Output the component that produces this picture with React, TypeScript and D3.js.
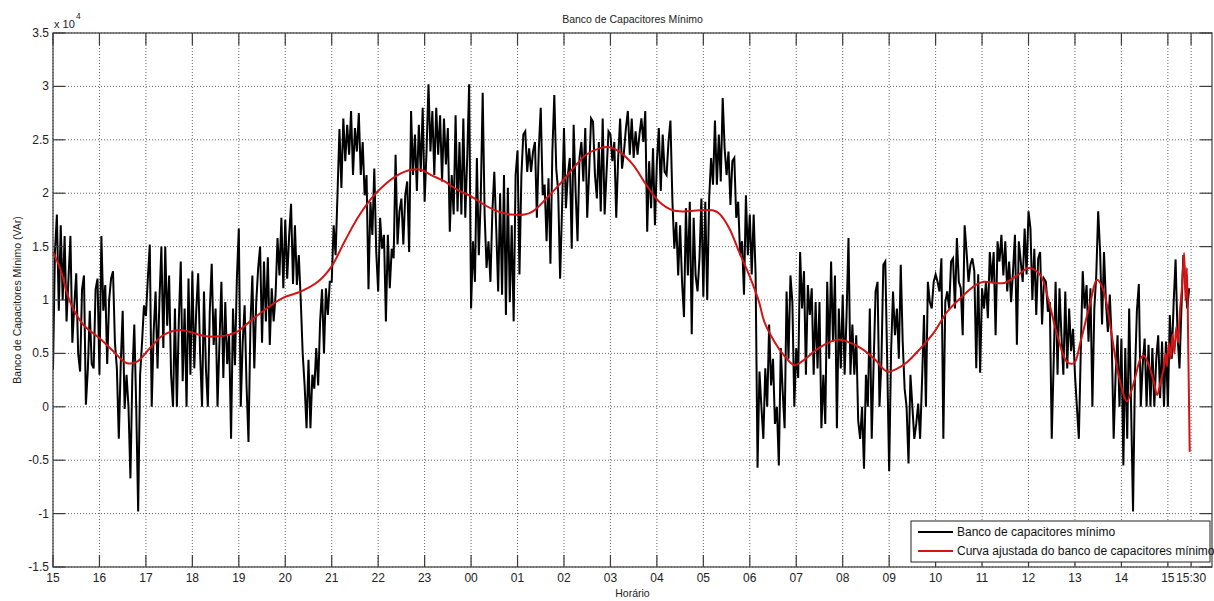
import React from 'react';
import * as d3 from 'd3';

// Banco de capacitores mínimo (x 10^4 VAr), one sample every 2.5 minutes from 15:00
const minBankE4 = [
  0.35, 1.45, 1.8, 0.9, 1.7, 1.0, 1.6, 0.8, 1.2, 1.6, 0.6, 0.95, 1.25, 0.5, 0.33, 1.1, 1.23, 0.02, 0.35, 0.9, 0.4, 0.36, 1.1, 1.2, // 15h
  0.3, 1.6, 0.9, 1.14, 0.4, 1.0, 1.2, 1.27, 0.6, 0.36, -0.3, 0.4, 0.9, -0.02, 0.3, 0.0, -0.67, 0.3, 0.77, 0.0, -0.98, 0.3, 0.6, 0.95, // 16h
  0.85, 1.2, 1.52, 0.0, 0.7, 1.08, 0.36, 1.0, 1.5, 0.55, 1.5, 0.76, 1.23, 0.3, 0.0, 0.92, 0.0, 0.8, 1.36, 0.24, 0.92, 0.0, 1.2, 0.3, // 17h
  1.27, 0.36, 0.9, 1.25, 0.5, 0.0, 1.08, 0.36, 0.0, 0.9, 1.34, 0.58, 0.92, 0.0, 0.6, 1.17, 0.27, 0.98, 0.4, 0.67, -0.3, 0.92, 0.39, 1.2, // 18h
  1.67, 0.0, 0.6, 0.95, 0.2, -0.33, 0.77, 1.23, 0.36, 0.98, 1.3, 1.5, 0.6, 1.36, 0.8, 1.4, 0.58, 1.11, 0.8, 1.05, 1.58, 1.23, 1.77, 1.11, // 19h
  1.75, 1.2, 1.6, 1.9, 1.15, 1.7, 1.14, 1.42, 1.0, 0.5, 0.2, -0.2, 0.44, -0.2, 0.3, 0.17, 0.55, 0.2, 0.8, 1.1, 0.5, 1.11, 0.86, 1.17, // 20h
  1.17, 1.7, 1.42, 2.0, 2.6, 2.05, 2.7, 2.3, 2.64, 2.36, 2.77, 2.17, 2.61, 2.39, 2.75, 2.17, 2.48, 1.98, 2.17, 1.1, 1.92, 1.61, 2.23, 1.45, // 21h
  1.08, 1.77, 1.48, 1.61, 0.8, 1.61, 1.11, 1.48, 1.39, 2.36, 1.52, 1.83, 1.95, 1.52, 1.98, 2.11, 1.45, 2.77, 2.17, 2.55, 2.02, 2.64, 2.2, 2.8, // 22h
  1.92, 2.4, 3.02, 2.39, 2.77, 2.17, 2.8, 2.36, 2.73, 2.11, 2.7, 2.27, 2.61, 1.64, 2.17, 1.8, 2.73, 1.83, 2.48, 1.8, 2.7, 1.77, 2.33, 3.02, // 23h
  0.92, 1.55, 1.17, 2.33, 1.42, 1.95, 2.94, 1.8, 1.3, 1.55, 1.17, 1.83, 2.2, 1.67, 1.08, 2.0, 1.05, 2.17, 0.86, 2.05, 0.98, 1.7, 0.8, 2.17, // 00h
  2.4, 1.24, 2.17, 2.55, 2.58, 2.2, 2.42, 2.2, 2.39, 2.48, 1.77, 2.42, 2.8, 1.98, 2.08, 1.55, 2.14, 1.34, 2.39, 2.92, 2.23, 2.02, 1.2, 1.86, // 01h
  2.61, 1.86, 2.17, 2.33, 1.48, 2.64, 2.02, 1.55, 2.33, 2.48, 2.11, 2.61, 1.77, 2.2, 2.7, 2.67, 2.17, 1.95, 2.48, 1.83, 2.7, 1.8, 2.2, 2.58, // 02h
  2.55, 2.3, 2.48, 1.77, 2.33, 2.7, 2.23, 2.39, 2.61, 2.77, 2.36, 2.7, 2.33, 2.58, 2.36, 2.55, 2.7, 2.48, 2.77, 1.64, 2.3, 1.86, 2.42, 1.7, // 03h
  2.3, 2.61, 2.02, 2.55, 2.2, 2.17, 2.48, 2.68, 1.94, 1.48, 1.73, 1.23, 1.7, 1.17, 0.84, 1.86, 1.23, 1.92, 0.68, 1.77, 1.23, 1.08, 1.39, 1.95, // 04h
  1.03, 1.92, 1.0, 1.95, 2.33, 2.08, 2.68, 2.08, 2.55, 2.11, 2.89, 2.42, 2.17, 2.39, 1.89, 2.3, 2.33, 1.77, 1.92, 1.42, 1.55, 1.05, 1.98, 1.42, // 05h
  1.8, 1.24, 1.8, 1.24, -0.57, 0.33, 0.0, -0.3, 0.36, 0.0, 0.77, 0.2, 0.45, -0.16, 0.0, -0.55, 0.55, 0.14, -0.2, 1.08, 0.45, 1.23, 0.98, 0.0, // 06h
  0.55, 0.27, 1.45, 0.92, 1.27, 0.3, 1.14, 0.86, 1.11, 0.3, 0.98, 0.36, 0.98, -0.2, 0.3, -0.16, 1.17, 0.45, 1.36, 0.61, 1.23, -0.2, 0.92, 0.36, // 07h
  1.05, 0.3, 0.86, 1.58, 0.3, 0.77, 0.3, 0.67, -0.13, -0.3, 0.0, -0.58, 0.3, 0.0, 0.92, -0.3, 0.42, 1.08, 1.17, 0.0, 0.42, 1.33, 1.36, 0.42, // 08h
  -0.6, 0.52, 1.08, 0.67, 0.92, 0.45, 1.33, 0.61, 0.17, 0.0, -0.53, 0.3, 0.0, -0.3, -0.16, 0.03, -0.3, 0.25, 0.86, 0.0, 1.17, 0.98, 0.92, 1.17, // 09h
  1.24, 1.17, 1.08, 1.39, -0.3, 0.98, 1.08, 0.92, 1.36, 1.39, 0.92, 1.58, 1.17, 1.11, 0.67, 1.7, 1.45, 1.17, 1.33, 1.39, 1.27, 0.36, 1.24, 0.32, // 10h
  1.11, 0.92, 1.17, 0.83, 1.45, 1.17, 1.45, 0.67, 1.55, 1.36, 1.61, 1.23, 1.55, 1.08, 1.36, 0.98, 1.27, 1.61, 0.58, 1.55, 1.36, 1.17, 1.67, 1.24, // 11h
  1.83, 1.67, 1.0, 1.48, 0.86, 1.39, 1.45, 0.77, 1.2, 1.17, 0.89, 0.98, -0.3, 0.42, 1.17, 0.3, 1.11, 0.67, 0.3, 1.08, 0.36, 0.92, 0.52, 0.73, // 12h
  0.3, 0.0, -0.3, 0.52, 1.27, 0.92, 1.14, 0.61, 1.11, 0.0, 0.92, 1.23, 1.83, 1.45, 0.77, 1.45, 0.98, 0.7, 1.05, 0.61, -0.3, 0.3, 0.67, 0.0, // 13h
  0.64, -0.55, 0.55, -0.3, 0.92, 0.0, -0.98, 0.3, 0.9, 1.15, 0.0, 0.39, 0.64, 0.0, 0.58, 0.0, 0.55, 0.0, 0.45, 0.67, 0.08, 0.61, 0.0, 0.61, // 14h
  0.0, 0.86, 0.45, 0.98, 1.38, 0.67, 0.36, 0.92, 1.42, 1.17, 0.92, 1.11 // 15h - 15:30
];

// curva ajustada: hours after 15:00 and value (x 10^4)
const fitHours = [
  0, 0.15, 0.37, 0.65, 1.01, 1.3, 1.58, 1.8, 2.09, 2.37, 2.73, 2.95, 3.3, 3.59, 3.95,
  4.24, 4.6, 4.95, 5.34, 5.7, 5.99, 6.28, 6.56, 6.85, 7.14, 7.42, 7.71, 7.92, 8.14,
  8.43, 8.71, 9.0, 9.29, 9.57, 9.86, 10.15, 10.33, 10.62, 10.9, 11.19, 11.48, 11.76,
  11.98, 12.19, 12.48, 12.77, 13.05, 13.34, 13.63, 13.91, 14.2, 14.34, 14.56, 14.77,
  14.99, 15.2, 15.31, 15.53, 15.74, 15.96, 16.17, 16.39, 16.6, 16.89, 17.1, 17.39,
  17.68, 17.96, 18.18, 18.39, 18.68, 18.97, 19.25, 19.54, 19.83, 20.04, 20.26, 20.48,
  20.76, 21.01, 21.26, 21.44, 21.62, 21.83, 21.98, 22.12, 22.3, 22.48, 22.62, 22.77,
  22.91, 23.05, 23.12, 23.27, 23.41, 23.48, 23.59, 23.7, 23.77, 23.84, 23.91, 23.95,
  23.98, 24.02, 24.06, 24.1, 24.14, 24.18, 24.22, 24.26, 24.3, 24.35, 24.38, 24.41,
  24.44, 24.47
];
const fitE4 = [
  1.45, 1.3, 0.98, 0.77, 0.64, 0.52, 0.41, 0.42, 0.55, 0.67, 0.72, 0.7, 0.66, 0.66, 0.7,
  0.8, 0.92, 1.02, 1.08, 1.17, 1.31, 1.55, 1.77, 1.95, 2.08, 2.17, 2.22, 2.22, 2.17,
  2.11, 2.03, 1.97, 1.89, 1.83, 1.8, 1.8, 1.83, 1.95, 2.08, 2.23, 2.36, 2.42,
  2.43, 2.39, 2.27, 2.08, 1.92, 1.84, 1.83, 1.84, 1.84, 1.81, 1.67, 1.45,
  1.23, 0.98, 0.8, 0.61, 0.48, 0.39, 0.44, 0.52, 0.58, 0.63, 0.61, 0.55,
  0.45, 0.33, 0.36, 0.42, 0.55, 0.7, 0.89, 1.02, 1.13, 1.17, 1.16, 1.16,
  1.23, 1.3, 1.23, 0.98, 0.67, 0.42, 0.41, 0.61, 0.92, 1.19, 1.08, 0.73,
  0.36, 0.11, 0.05, 0.23, 0.45, 0.48, 0.39, 0.23, 0.11, 0.23, 0.36, 0.5,
  0.38, 0.6, 0.45, 0.68, 0.5, 0.75, 0.6, 0.9, 1.1, 1.44, 1.0, 1.3,
  0.5, -0.42
];

const xTickHours = [0, 1, 2, 3, 4, 5, 6, 7, 8, 9, 10, 11, 12, 13, 14, 15, 16, 17, 18, 19, 20, 21, 22, 23, 24, 24.5];
const xTickLabels = ['15', '16', '17', '18', '19', '20', '21', '22', '23', '00', '01', '02', '03', '04', '05', '06', '07', '08', '09', '10', '11', '12', '13', '14', '15', '15:30'];
const yTicks = [-1.5, -1, -0.5, 0, 0.5, 1, 1.5, 2, 2.5, 3, 3.5];

const legendItems = [
  { label: 'Banco de capacitores mínimo', color: '#000' },
  { label: 'Curva ajustada do banco de capacitores mínimo', color: '#d41414' },
];

const W = 1214, H = 601;
const left = 53, right = 1212, top = 33, bottom = 567;
const font = 'Liberation Sans, Arial, Helvetica, sans-serif';

export default function App() {
  const x = d3.scaleLinear().domain([0, 24.95]).range([left, right]);
  const y = d3.scaleLinear().domain([-1.5, 3.5]).range([bottom, top]);

  const rawLine = d3.line<number>()
    .x((d, i) => x(i / 24))
    .y(d => y(d));

  const fitLine = d3.line<number>()
    .x((d, i) => x(fitHours[i]))
    .y(d => y(d))
    .curve(d3.curveCatmullRom.alpha(0.5));

  const tickLen = 12;
  const axisColor = '#3c3c3c';
  const gridColor = '#666';

  return (
    <svg width={W} height={H} style={{ position: 'absolute', left: 0, top: 0, background: '#fff' }}
      fontFamily={font}>
      <defs>
        <clipPath id="plotArea">
          <rect x={left} y={top} width={right - left} height={bottom - top} />
        </clipPath>
      </defs>
      <rect x={0} y={0} width={W} height={H} fill="#fff" />

      {/* grid */}
      <g stroke={gridColor} strokeWidth={1} strokeDasharray="1 2">
        {xTickHours.map((h, i) => (
          <line key={'gx' + i} x1={x(h)} x2={x(h)} y1={top} y2={bottom} />
        ))}
        {yTicks.map((v, i) => (
          <line key={'gy' + i} x1={left} x2={right} y1={y(v)} y2={y(v)} />
        ))}
      </g>

      {/* data */}
      <g clipPath="url(#plotArea)" fill="none">
        <path d={rawLine(minBankE4) || ''} stroke="#000" strokeWidth={2} />
        <path d={fitLine(fitE4) || ''} stroke="#d41414" strokeWidth={2} />
      </g>

      {/* axes box and ticks */}
      <g stroke={axisColor} strokeWidth={1.2}>
        <rect x={left} y={top} width={right - left} height={bottom - top} fill="none" />
        {xTickHours.map((h, i) => (
          <g key={'tx' + i}>
            <line x1={x(h)} x2={x(h)} y1={bottom} y2={bottom - tickLen} />
            <line x1={x(h)} x2={x(h)} y1={top} y2={top + tickLen} />
          </g>
        ))}
        {yTicks.map((v, i) => (
          <g key={'ty' + i}>
            <line x1={left} x2={left + tickLen} y1={y(v)} y2={y(v)} />
            <line x1={right} x2={right - tickLen} y1={y(v)} y2={y(v)} />
          </g>
        ))}
      </g>

      {/* tick labels */}
      <g fontSize={12} fill="#222">
        {xTickHours.map((h, i) => (
          <text key={'lx' + i} x={x(h)} y={bottom + 15} textAnchor="middle">{xTickLabels[i]}</text>
        ))}
        {yTicks.map((v, i) => (
          <text key={'ly' + i} x={left - 4} y={y(v)} textAnchor="end" dominantBaseline="central">{String(v)}</text>
        ))}
        <text x={left + 1} y={top - 5} fontSize={11}>x 10</text>
        <text x={left + 23} y={top - 14} fontSize={8.5}>4</text>
      </g>

      {/* titles */}
      <text x={(left + right) / 2} y={23} textAnchor="middle" fontSize={10.5} fill="#222">Banco de Capacitores Mínimo</text>
      <text x={(left + right) / 2} y={597} textAnchor="middle" fontSize={10.5} fill="#222">Horário</text>
      <text transform={`translate(21,${(top + bottom) / 2}) rotate(-90)`} textAnchor="middle" fontSize={10.5} fill="#222">
        Banco de Capacitores Mínimo (VAr)
      </text>

      {/* legend */}
      <g>
        <rect x={911} y={521} width={right - 2 - 911} height={41} fill="#fff" stroke="#222" strokeWidth={1} />
        {legendItems.map((item, i) => (
          <g key={'lg' + i} transform={`translate(918,${532 + i * 19})`}>
            <line x1={0} x2={35} y1={0} y2={0} stroke={item.color} strokeWidth={2} />
            <text x={39} y={0} dominantBaseline="central" fontSize={12} fill="#111">{item.label}</text>
          </g>
        ))}
      </g>
    </svg>
  );
}
